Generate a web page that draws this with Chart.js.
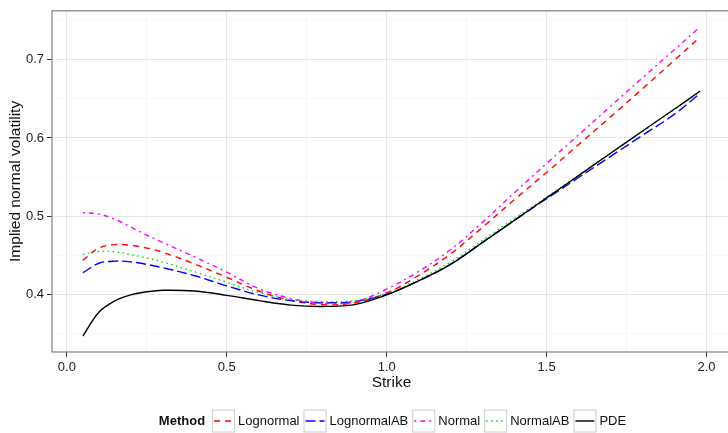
<!DOCTYPE html>
<html>
<head>
<meta charset="utf-8">
<script src="https://cdn.jsdelivr.net/npm/chart.js@4.4.0/dist/chart.umd.min.js"></script>
<style>
  html, body { margin: 0; padding: 0; background: #fff; overflow: hidden; }
  canvas { display: block; }
</style>
</head>
<body>
<canvas id="canvas" width="782" height="433"></canvas>
<script>
// strike grid and implied normal vols
const strikes = [0.05, 0.1, 0.15, 0.2, 0.25, 0.3, 0.4, 0.5, 0.6, 0.7, 0.8, 0.9, 1.0, 1.1, 1.2, 1.3, 1.4, 1.5, 1.6, 1.7, 1.8, 1.9, 1.98]
const lognormal = [0.4435, 0.4595, 0.4638, 0.4630, 0.4593, 0.4540, 0.4390, 0.4220, 0.4045, 0.3925, 0.3870, 0.3895, 0.4020, 0.4245, 0.4520, 0.4860, 0.5215, 0.5560, 0.5915, 0.6270, 0.6630, 0.6995, 0.7290]
const lognormalAB = [0.4279, 0.4400, 0.4427, 0.4418, 0.4385, 0.4342, 0.4240, 0.4110, 0.3995, 0.3922, 0.3895, 0.3912, 0.4005, 0.4175, 0.4390, 0.4670, 0.4950, 0.5225, 0.5495, 0.5765, 0.6035, 0.6305, 0.6570]
const normal = [0.5047, 0.5028, 0.4962, 0.4862, 0.4758, 0.4665, 0.4480, 0.4285, 0.4075, 0.3950, 0.3890, 0.3905, 0.4070, 0.4295, 0.4575, 0.4925, 0.5305, 0.5675, 0.6040, 0.6405, 0.6770, 0.7130, 0.7420]
const normalAB = [0.4511, 0.4550, 0.4545, 0.4512, 0.4467, 0.4415, 0.4290, 0.4155, 0.4025, 0.3937, 0.3910, 0.3922, 0.4020, 0.4195, 0.4415, 0.4695, 0.4975, 0.5245, 0.5525, 0.5805, 0.6085, 0.6365, 0.6595]
const pde = [0.3470, 0.3775, 0.3920, 0.3995, 0.4035, 0.4055, 0.4045, 0.3990, 0.3922, 0.3865, 0.3848, 0.3872, 0.3995, 0.4175, 0.4385, 0.4665, 0.4950, 0.5235, 0.5520, 0.5805, 0.6090, 0.6370, 0.6600]

const xMajorTicks = [0, 0.5, 1, 1.5, 2]
const xMinorTicks = [0.25, 0.75, 1.25, 1.75]
const yMajorTicks = [0.4, 0.5, 0.6, 0.7]
const yMinorTicks = [0.35, 0.45, 0.55, 0.65, 0.75]

const legendTitle = 'Method'
const FONT = '"Liberation Sans", Arial, sans-serif'

function points(values) {
  return strikes.map((s, i) => ({ x: s, y: values[i] }))
}

function isMajor(list, v) {
  return list.some(m => Math.abs(m - v) < 1e-6)
}

// ggplot-ish panel border on all four sides
const panelBorder = {
  id: 'panelBorder',
  afterDraw(chart) {
    const { ctx, chartArea: a } = chart
    ctx.save()
    ctx.strokeStyle = '#7f7f7f'
    ctx.lineWidth = 1.2
    ctx.strokeRect(a.left, a.top, a.right - a.left, a.bottom - a.top)
    ctx.restore()
  }
}

// horizontal legend at the bottom, title on the left like ggplot
const methodLegend = {
  id: 'methodLegend',
  afterDraw(chart) {
    const { ctx, chartArea: a } = chart
    const y = 421
    const key = 23
    ctx.save()
    ctx.textBaseline = 'middle'
    ctx.font = 'bold 13px ' + FONT
    const titleW = ctx.measureText(legendTitle).width
    ctx.font = '13px ' + FONT
    let total = titleW + 7
    chart.data.datasets.forEach(ds => {
      total += key + 3 + ctx.measureText(ds.label).width + 4
    })
    total -= 4
    let x = (a.left + a.right) / 2 - total / 2 + 1

    ctx.fillStyle = '#111'
    ctx.font = 'bold 13px ' + FONT
    ctx.fillText(legendTitle, x, y)
    x += titleW + 7
    ctx.font = '13px ' + FONT
    chart.data.datasets.forEach(ds => {
      ctx.fillStyle = '#fff'
      ctx.fillRect(x, y - key / 2, key, key)
      ctx.strokeStyle = '#cccccc'
      ctx.lineWidth = 1
      ctx.setLineDash([])
      ctx.strokeRect(x + 0.5, y - key / 2 + 0.5, key - 1, key - 1)
      ctx.strokeStyle = ds.borderColor
      ctx.lineWidth = ds.borderWidth
      ctx.setLineDash(ds.borderDash || [])
      ctx.beginPath()
      ctx.moveTo(x + 2, y)
      ctx.lineTo(x + key - 2, y)
      ctx.stroke()
      ctx.setLineDash([])
      x += key + 3
      ctx.fillStyle = '#111'
      ctx.fillText(ds.label, x, y)
      x += ctx.measureText(ds.label).width + 4
    })
    ctx.restore()
  }
}

function series(label, values, color, dash, order) {
  return {
    label: label,
    data: points(values),
    borderColor: color,
    backgroundColor: color,
    borderWidth: 1.4,
    borderDash: dash,
    pointRadius: 0,
    fill: false,
    tension: 0.35,
    order: order
  }
}

const ctx = document.getElementById('canvas')

new Chart(ctx, {
  type: 'line',
  data: {
    datasets: [
      series('Lognormal', lognormal, '#ff0000', [6, 5], 5),
      series('LognormalAB', lognormalAB, '#0000ff', [10, 4], 4),
      series('Normal', normal, '#ff00ff', [2, 4, 5, 4], 3),
      series('NormalAB', normalAB, '#00dd00', [1.5, 3.5], 2),
      series('PDE', pde, '#000000', [], 1)
    ]
  },
  options: {
    responsive: false,
    animation: false,
    layout: { padding: { top: 7, left: 0, right: 51, bottom: 38 } },
    plugins: {
      legend: { display: false },
      tooltip: { enabled: false }
    },
    scales: {
      x: {
        type: 'linear',
        min: -0.0465,
        max: 2.0765,
        afterFit: scale => { scale.height = 43 },
        afterBuildTicks: scale => {
          scale.ticks = [...xMajorTicks, ...xMinorTicks].sort((p, q) => p - q).map(v => ({ value: v }))
        },
        ticks: {
          autoSkip: false,
          maxRotation: 0,
          padding: 3,
          color: '#222',
          font: { family: FONT, size: 13 },
          callback: v => isMajor(xMajorTicks, v) ? v.toFixed(1) : ''
        },
        grid: {
          color: c => c.tick && isMajor(xMajorTicks, c.tick.value) ? '#e5e5e5' : '#f7f7f7',
          tickColor: c => c.tick && isMajor(xMajorTicks, c.tick.value) ? '#333' : 'rgba(0,0,0,0)',
          tickLength: 5,
          lineWidth: 1
        },
        border: { display: false },
        title: {
          display: true,
          text: 'Strike',
          color: '#111',
          font: { family: FONT, size: 15.5 },
          padding: { top: 0, bottom: 3 }
        }
      },
      y: {
        type: 'linear',
        min: 0.3266,
        max: 0.7625,
        afterFit: scale => { scale.width = 52 },
        afterBuildTicks: scale => {
          scale.ticks = [...yMajorTicks, ...yMinorTicks].sort((p, q) => p - q).map(v => ({ value: v }))
        },
        ticks: {
          autoSkip: false,
          padding: 3,
          color: '#222',
          font: { family: FONT, size: 13 },
          callback: v => isMajor(yMajorTicks, v) ? v.toFixed(1) : ''
        },
        grid: {
          color: c => c.tick && isMajor(yMajorTicks, c.tick.value) ? '#e5e5e5' : '#f7f7f7',
          tickColor: c => c.tick && isMajor(yMajorTicks, c.tick.value) ? '#333' : 'rgba(0,0,0,0)',
          tickLength: 5,
          lineWidth: 1
        },
        border: { display: false },
        title: {
          display: true,
          text: 'Implied normal volatility',
          color: '#111',
          font: { family: FONT, size: 15.5 },
          padding: { top: 6, bottom: 0 }
        }
      }
    }
  },
  plugins: [panelBorder, methodLegend]
});
</script>
</body>
</html>
